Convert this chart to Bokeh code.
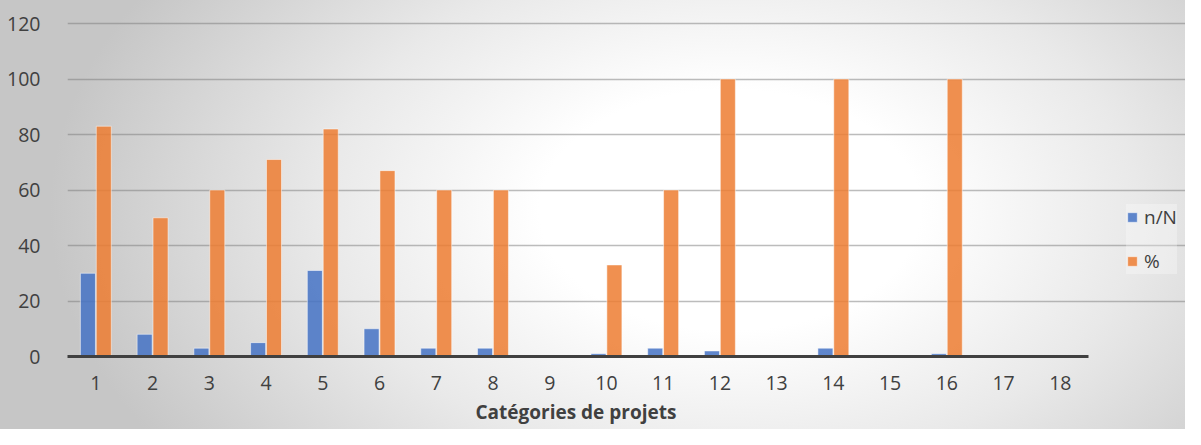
from bokeh.plotting import figure
from bokeh.models import ColumnDataSource, FixedTicker, Range1d, Legend, LegendItem, Title
from bokeh.transform import dodge
from bokeh.embed import file_html
from bokeh.resources import INLINE

# ---- data ----
categories = list(range(1, 19))
n_sur_N = [30, 8, 3, 5, 31, 10, 3, 3, 0, 1, 3, 2, 0, 3, 0, 1, 0, 0]
pourcent = [83, 50, 60, 71, 82, 67, 60, 60, 0, 33, 60, 100, 0, 100, 0, 100, 0, 0]
y_ticks = [0, 20, 40, 60, 80, 100, 120]
series_names = ["n/N", "%"]
x_title = "Catégories de projets"

FONT = "Open Sans"
TXT = "#404040"
BLUE = "#4472C4"
ORANGE = "#ED7D31"

src = ColumnDataSource(dict(cat=categories, n=n_sur_N, pct=pourcent))

# frame spans to the right edge so the legend can sit inside it; grid/axis are bounded to the categories
x_lo, x_hi = 0.5, 18.5
x_end = x_lo + (1185 - 67) / 56.73

p = figure(width=1185, height=429, output_backend="svg", toolbar_location=None,
           x_range=Range1d(x_lo, x_end), y_range=Range1d(0, 120.76),
           min_border_left=67, min_border_right=0, min_border_top=21, min_border_bottom=73)

p.background_fill_color = None
p.border_fill_color = None
p.outline_line_color = None
p.styles = {"background": "radial-gradient(ellipse 680px 430px at 730px 210px, #ffffff 0%, #ffffff 28%, #e9e9e9 60%, #c6c6c6 100%)"}

r1 = p.vbar(x=dodge("cat", -0.14, range=p.x_range), top="n", width=0.265, bottom=0, source=src,
            fill_color=BLUE, fill_alpha=0.85, line_color="white", line_alpha=0.5, line_width=1)
r2 = p.vbar(x=dodge("cat", 0.14, range=p.x_range), top="pct", width=0.265, bottom=0, source=src,
            fill_color=ORANGE, fill_alpha=0.85, line_color="white", line_alpha=0.5, line_width=1)

# axes
p.xaxis.bounds = (x_lo, x_hi)
p.xaxis.ticker = FixedTicker(ticks=categories)
p.xaxis.axis_line_color = "#404040"
p.xaxis.axis_line_width = 3
p.xaxis.major_tick_line_color = None
p.xaxis.minor_tick_line_color = None
p.xaxis.major_label_standoff = 13
p.xaxis.major_label_text_font = FONT
p.xaxis.major_label_text_font_size = "19.5px"
p.xaxis.major_label_text_color = TXT

# x-axis title, placed under the category axis (centred on categories 1..18)
p.add_layout(Title(text=x_title, align="left", offset=408, standoff=8, vertical_align="bottom",
                   text_font=FONT, text_font_size="19px", text_font_style="bold",
                   text_color=TXT), "below")

p.yaxis.ticker = FixedTicker(ticks=y_ticks)
p.yaxis.axis_line_color = None
p.yaxis.major_tick_line_color = None
p.yaxis.minor_tick_line_color = None
p.yaxis.major_label_standoff = 21
p.yaxis.major_label_text_font = FONT
p.yaxis.major_label_text_font_size = "19.5px"
p.yaxis.major_label_text_color = TXT

p.xgrid.grid_line_color = None
p.ygrid.ticker = FixedTicker(ticks=y_ticks)
p.ygrid.bounds = (x_lo, x_hi)
p.ygrid.grid_line_color = "#7a7a7a"
p.ygrid.grid_line_alpha = 0.5
p.ygrid.grid_line_width = 1.5

legend = Legend(items=[LegendItem(label=series_names[0], renderers=[r1]),
                       LegendItem(label=series_names[1], renderers=[r2])],
                location=(1059, 82), orientation="vertical",
                background_fill_color="#ffffff", background_fill_alpha=0.3,
                border_line_color=None, padding=9, spacing=18, margin=0,
                glyph_width=12, glyph_height=12, label_standoff=6,
                label_text_font=FONT, label_text_font_size="19px", label_text_color=TXT)
p.add_layout(legend)

open("out.html", "w").write(file_html(p, INLINE))
